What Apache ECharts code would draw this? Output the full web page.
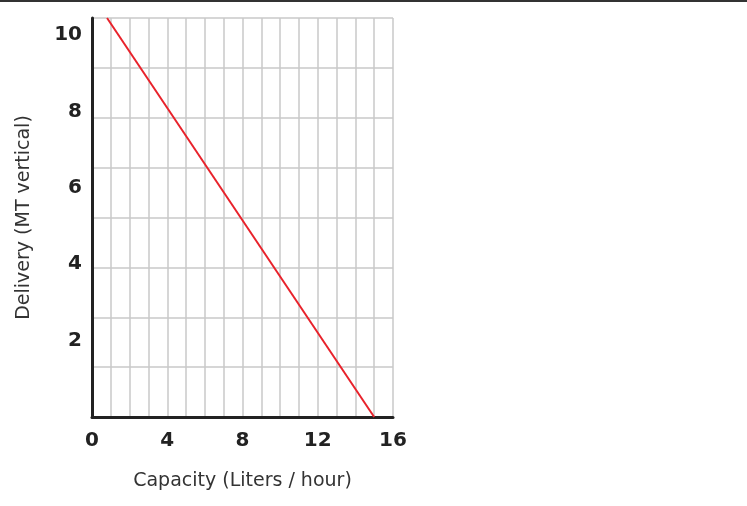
<!DOCTYPE html>
<html><head><meta charset="utf-8">
<script src="https://cdn.jsdelivr.net/npm/echarts@6/dist/echarts.min.js"></script>
<style>html,body{margin:0;padding:0;background:#fff}#c{width:747px;height:506px}</style>
</head><body><div id="c"></div>
<script>
// Data
const lineX = [0.8, 15];
const lineY = [10.45, 0];
const xTicks = [0, 4, 8, 12, 16];
const yTicks = [2, 4, 6, 8, 10];
const xName = 'Capacity (Liters / hour)';
const yName = 'Delivery (MT vertical)';

const chart = echarts.init(document.getElementById('c'));
const labelFont = {fontFamily: 'DejaVu Sans', fontWeight: 'bold', fontSize: 20, color: '#222'};
const nameFont = {fontFamily: 'DejaVu Sans', fontSize: 19, color: '#333'};
chart.setOption({
  animation: false,
  graphic: [{type: 'rect', left: 0, top: 0, shape: {width: 747, height: 2}, style: {fill: '#333'}}],
  grid: {left: 92, right: 354, top: 18, bottom: 89},
  xAxis: {
    type: 'value', min: 0, max: 16, interval: 1,
    name: xName, nameLocation: 'middle', nameGap: 55,
    nameTextStyle: nameFont,
    axisLine: {show: true, lineStyle: {color: '#222', width: 3}},
    axisTick: {show: false},
    axisLabel: Object.assign({margin: 14, formatter: v => xTicks.includes(v) ? String(v) : ''}, labelFont),
    splitLine: {show: true, lineStyle: {color: '#c8c8c8', width: 1.5}}
  },
  yAxis: [{
    type: 'value', min: 0, max: lineY[0], interval: 2,
    name: yName, nameLocation: 'middle', nameGap: 58,
    nameTextStyle: nameFont,
    axisLine: {show: true, onZero: false, lineStyle: {color: '#222', width: 3}},
    axisTick: {show: false},
    axisLabel: Object.assign({margin: 10, showMaxLabel: false, formatter: v => yTicks.includes(v) ? String(v) : ''}, labelFont),
    splitLine: {show: false}
  }, {
    type: 'value', min: 0, max: 8, interval: 1, position: 'left',
    axisLine: {show: false}, axisTick: {show: false}, axisLabel: {show: false},
    splitLine: {show: true, lineStyle: {color: '#c8c8c8', width: 1.5}}
  }],
  series: [{
    type: 'line', yAxisIndex: 0, symbol: 'none',
    data: lineX.map((x, i) => [x, lineY[i]]),
    lineStyle: {color: '#e8222b', width: 2}
  }]
});
</script></body></html>
